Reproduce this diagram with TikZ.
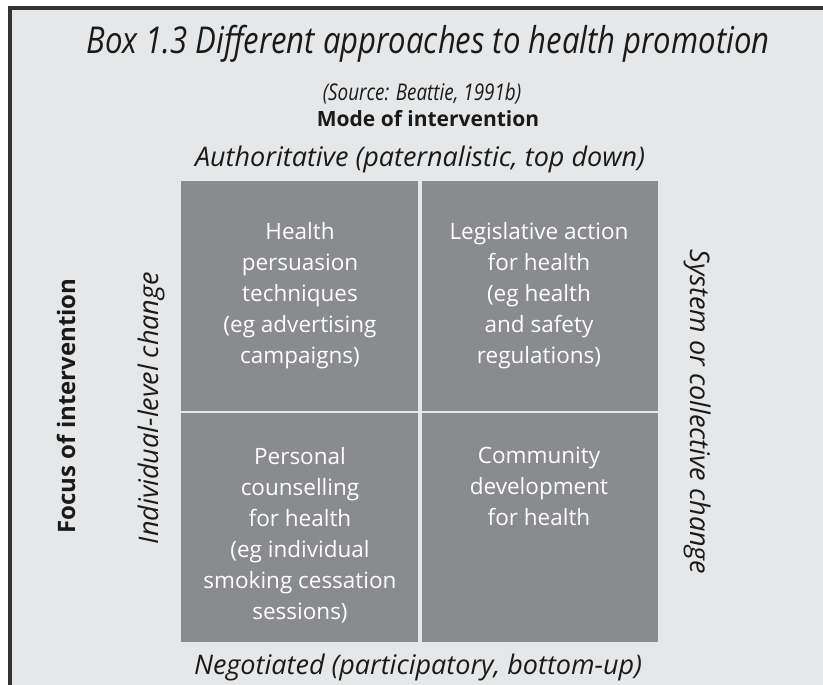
\documentclass[tikz,border=0pt]{standalone}
\usepackage{fontspec}
\setmainfont{Open Sans}
\definecolor{boxbg}{HTML}{E6E7E8}
\definecolor{frame}{HTML}{333333}
\definecolor{cellfill}{HTML}{8A8B8E}
\definecolor{ink}{HTML}{1A1A1A}
\tikzset{
  cellbox/.style={fill=cellfill, draw=none, inner sep=0pt, anchor=north west,
    minimum width=236.5pt, minimum height=229.5pt},
  celltext/.style={text=white, align=center, inner sep=0pt, anchor=north,
    font=\fontsize{22.5}{31}\selectfont},
  axislabel/.style={text=ink, inner sep=0pt, font=\fontsize{27}{31}\selectfont\itshape},
  headlabel/.style={text=ink, inner sep=0pt, font=\fontsize{21}{25}\selectfont\bfseries},
}
\begin{document}
\begin{tikzpicture}[x=1pt, y=-1pt]
  \useasboundingbox (0,0) rectangle (823,685);
  \fill[white] (0,0) rectangle (823,685);
  % panel with a rule along its top and left edges
  \fill[boxbg] (10,8) rectangle (823,685);
  \draw[frame, line width=4pt] (10,685) -- (10,8) -- (823,8);

  % heading lines
  \node[text=ink, inner sep=0pt, anchor=base, font=\fontsize{37}{42}\selectfont\itshape]
    (title) at (428,54) {\scalebox{0.84}[1]{Box 1.3 Different approaches to health promotion}};
  \node[text=ink, inner sep=0pt, anchor=base, font=\fontsize{23}{27}\selectfont\itshape]
    (source) at (422,100) {\scalebox{0.82}[1]{(Source: Beattie, 1991b)}};
  \node[headlabel, anchor=base] (mode) at (428,126) {Mode of intervention};
  \node[axislabel, anchor=base] (auth) at (420,167) {Authoritative (paternalistic, top down)};
  \node[axislabel, anchor=base] (nego) at (418,674) {Negotiated (participatory, bottom-up)};

  % side labels
  \node[headlabel, font=\fontsize{24}{28}\selectfont\bfseries, rotate=90, anchor=base] (focus) at (75,406) {Focus of intervention};
  \node[axislabel, rotate=90, anchor=base] (indiv) at (158,408) {Individual-level change};
  \node[axislabel, rotate=-90, anchor=base] (system) at (690,412) {System or collective change};

  % the four quadrants
  \node[cellbox] (tl) at (181,181) {};
  \node[cellbox] (tr) at (421.5,181) {};
  \node[cellbox] (bl) at (181,412.5) {};
  \node[cellbox] (br) at (421.5,412.5) {};

  \node[celltext] (tltext) at (300,222) {Health\\persuasion\\techniques\\(eg advertising\\campaigns)};
  \node[celltext] (trtext) at (539,222) {Legislative action\\for health\\(eg health\\and safety\\regulations)};
  \node[celltext] (bltext) at (300,447) {Personal\\counselling\\for health\\(eg individual\\smoking cessation\\sessions)};
  \node[celltext] (brtext) at (539,447) {Community\\development\\for health};
\end{tikzpicture}
\end{document}
